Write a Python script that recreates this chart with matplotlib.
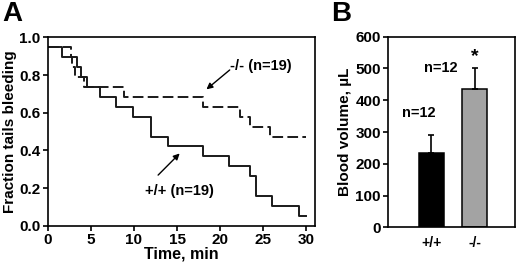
import matplotlib
matplotlib.use("Agg")
import matplotlib.pyplot as plt
import numpy as np

plt.rcParams["font.family"] = ["Liberation Sans", "DejaVu Sans"]
plt.rcParams["font.weight"] = "bold"

# Panel A: Kaplan-Meier style step data (n=19)
n_mice = 19
wt_times = [0, 1.7, 3.4, 3.9, 4.5, 6.1, 7.9, 9.9, 12.0, 14.0, 18.0, 21.0, 23.5, 24.1, 26.0, 29.1, 30.0]
wt_alive = [18, 17, 16, 15, 14, 13, 12, 11, 9, 8, 7, 6, 5, 3, 2, 1, 1]
ko_times = [0, 2.7, 2.8, 3.2, 4.2, 8.9, 18.0, 22.3, 23.5, 25.8, 30.0]
ko_alive = [18, 17, 16, 15, 14, 13, 12, 11, 10, 9, 9]

# Panel B: blood volume
groups = ["+/+", "-/-"]
volumes = [235, 435]
volume_err = [55, 67]
bar_colors = ["black", "#a3a3a3"]
n_labels = ["n=12", "n=12"]

fig = plt.figure(figsize=(5.2, 2.65), dpi=100)

# ---- Panel A ----
ax = fig.add_axes([0.0917, 0.148, 0.5143, 0.711])
line_col = "#1a1a1a"
ax.step(wt_times, np.array(wt_alive) / n_mice, where="post", color=line_col, lw=1.4)
ax.step(ko_times, np.array(ko_alive) / n_mice, where="post", color=line_col, lw=1.4,
        dashes=(5.5, 2.2))
ax.set_xlim(0, 31)
ax.set_ylim(0, 1.0)
ax.set_xticks([0, 5, 10, 15, 20, 25, 30])
ax.set_yticks([0.0, 0.2, 0.4, 0.6, 0.8, 1.0])
ax.set_yticklabels([f"{v:.1f}" for v in [0.0, 0.2, 0.4, 0.6, 0.8, 1.0]])
ax.tick_params(direction="out", length=3.5, width=1.2, labelsize=11, pad=1.5)
for s in ax.spines.values():
    s.set_linewidth(1.2)
ax.set_xlabel("Time, min", fontsize=11.5, fontweight="bold", labelpad=0)
ax.set_ylabel("Fraction tails bleeding", fontsize=11, fontweight="bold", labelpad=2)

arrow_kw = dict(arrowstyle="-|>", color="black", lw=1.0, mutation_scale=9,
                shrinkA=0, shrinkB=0)
ax.annotate("", xy=(18.4, 0.724), xytext=(21.1, 0.827), arrowprops=arrow_kw)
ax.text(24.7, 0.85, "-/- (n=19)", ha="center", va="center", fontsize=10.5, fontweight="bold")
ax.annotate("", xy=(15.3, 0.384), xytext=(12.8, 0.269), arrowprops=arrow_kw)
ax.text(15.27, 0.184, "+/+ (n=19)", ha="center", va="center", fontsize=10.5, fontweight="bold")

fig.text(0.004, 0.995, "A", fontsize=20, fontweight="bold", va="top", ha="left")

# ---- Panel B ----
bx = fig.add_axes([0.7456, 0.142, 0.2444, 0.7195])
xpos = [1, 2]
bx.bar(xpos, volumes, width=0.58, color=bar_colors, edgecolor="black", linewidth=1.1)
bx.errorbar(xpos, volumes, yerr=[[0, 0], volume_err], fmt="none", ecolor="black",
            elinewidth=1.2, capsize=2.5, capthick=1.2)
bx.set_xlim(0, 2.92)
bx.set_ylim(0, 600)
bx.set_yticks(range(0, 601, 100))
bx.set_xticks(xpos)
bx.set_xticklabels(groups)
bx.tick_params(axis="y", direction="out", length=3.5, width=1.2, labelsize=11, pad=1.5)
bx.tick_params(axis="x", length=0, labelsize=10, pad=6)
for s in bx.spines.values():
    s.set_linewidth(1.2)
bx.set_ylabel("Blood volume, µL", fontsize=11, fontweight="bold", labelpad=2)
bx.text(0.71, 359, n_labels[0], ha="center", va="center", fontsize=10.5, fontweight="bold")
bx.text(1.21, 500, n_labels[1], ha="center", va="center", fontsize=10.5, fontweight="bold")
bx.text(2, 512, "*", ha="center", va="bottom", fontsize=14, fontweight="bold")

fig.text(0.637, 0.995, "B", fontsize=20, fontweight="bold", va="top", ha="left")

fig.savefig("out.png", dpi=100)
